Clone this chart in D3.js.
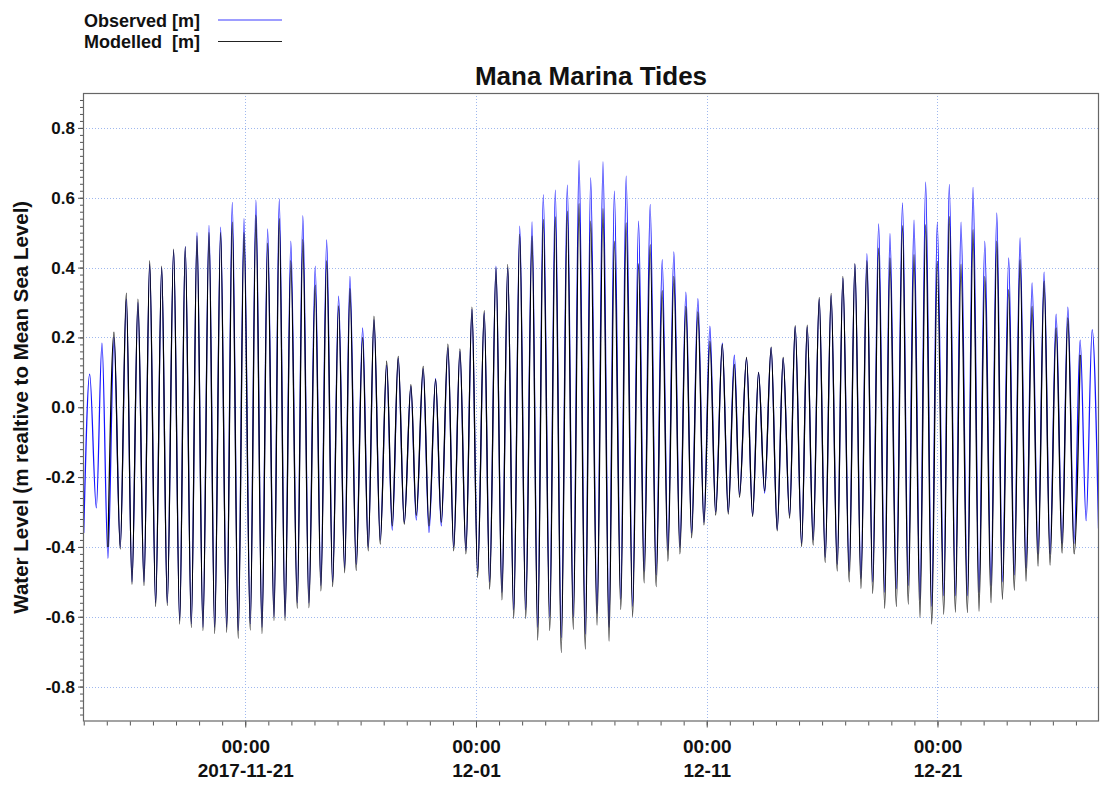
<!DOCTYPE html>
<html>
<head>
<meta charset="utf-8">
<script src="https://cdn.jsdelivr.net/npm/d3@7"></script>
<style>
  body { margin: 0; background: #fff; }
  text { font-family: "Liberation Sans", Arial, sans-serif; font-weight: bold; fill: #111; }
</style>
</head>
<body>
<svg id="chart" width="1102" height="807"></svg>
<script>
// High / low water times (UTC) and levels in metres relative to MSL
const times = [
  "2017-11-14 00:00","2017-11-14 06:12","2017-11-14 13:06","2017-11-14 19:00",
  "2017-11-15 01:12","2017-11-15 07:30","2017-11-15 14:00","2017-11-15 20:18",
  "2017-11-16 02:12","2017-11-16 08:24","2017-11-16 14:42","2017-11-16 20:36",
  "2017-11-17 02:48","2017-11-17 09:06","2017-11-17 14:54","2017-11-17 21:30",
  "2017-11-18 03:48","2017-11-18 09:36","2017-11-18 15:54","2017-11-18 21:48",
  "2017-11-19 04:00","2017-11-19 10:18","2017-11-19 16:12","2017-11-19 22:24",
  "2017-11-20 04:42","2017-11-20 10:30","2017-11-20 16:42","2017-11-20 22:42",
  "2017-11-21 05:12","2017-11-21 11:06","2017-11-21 17:24","2017-11-21 23:18",
  "2017-11-22 05:54","2017-11-22 11:24","2017-11-22 17:24","2017-11-22 23:24",
  "2017-11-23 06:06","2017-11-23 11:54","2017-11-23 18:12","2017-11-24 00:48",
  "2017-11-24 06:42","2017-11-24 12:42","2017-11-24 18:54","2017-11-25 01:06",
  "2017-11-25 07:24","2017-11-25 12:54","2017-11-25 19:24","2017-11-26 02:06",
  "2017-11-26 07:54","2017-11-26 13:54","2017-11-26 20:24","2017-11-27 03:06",
  "2017-11-27 08:54","2017-11-27 15:06","2017-11-27 21:24","2017-11-28 04:18",
  "2017-11-28 09:54","2017-11-28 17:06","2017-11-28 23:06","2017-11-29 06:00",
  "2017-11-29 11:54","2017-11-29 18:48","2017-11-30 00:48","2017-11-30 07:18",
  "2017-11-30 13:30","2017-11-30 19:48","2017-12-01 01:42","2017-12-01 08:36",
  "2017-12-01 14:12","2017-12-01 20:48","2017-12-02 03:00","2017-12-02 09:00",
  "2017-12-02 15:12","2017-12-02 21:30","2017-12-03 03:42","2017-12-03 10:18",
  "2017-12-03 16:12","2017-12-03 22:00","2017-12-04 04:42","2017-12-04 10:30",
  "2017-12-04 16:42","2017-12-04 23:00","2017-12-05 05:12","2017-12-05 11:12",
  "2017-12-05 17:42","2017-12-05 23:18","2017-12-06 05:54","2017-12-06 12:06",
  "2017-12-06 18:24","2017-12-06 23:54","2017-12-07 06:36","2017-12-07 12:12",
  "2017-12-07 18:54","2017-12-08 01:06","2017-12-08 06:54","2017-12-08 13:12",
  "2017-12-08 19:24","2017-12-09 01:42","2017-12-09 07:36","2017-12-09 13:48",
  "2017-12-09 20:06","2017-12-10 02:18","2017-12-10 08:18","2017-12-10 14:48",
  "2017-12-10 21:06","2017-12-11 03:18","2017-12-11 09:18","2017-12-11 16:12",
  "2017-12-11 22:24","2017-12-12 04:42","2017-12-12 10:06","2017-12-12 17:24",
  "2017-12-12 23:42","2017-12-13 05:54","2017-12-13 12:12","2017-12-13 19:00",
  "2017-12-14 01:18","2017-12-14 07:30","2017-12-14 14:12","2017-12-14 20:00",
  "2017-12-15 02:42","2017-12-15 08:30","2017-12-15 14:42","2017-12-15 21:00",
  "2017-12-16 03:12","2017-12-16 09:24","2017-12-16 15:42","2017-12-16 21:36",
  "2017-12-17 04:12","2017-12-17 10:06","2017-12-17 16:24","2017-12-17 22:36",
  "2017-12-18 04:36","2017-12-18 10:48","2017-12-18 17:06","2017-12-18 22:36",
  "2017-12-19 05:12","2017-12-19 11:36","2017-12-19 17:36","2017-12-19 23:36",
  "2017-12-20 05:48","2017-12-20 11:42","2017-12-20 18:00","2017-12-20 23:48",
  "2017-12-21 06:30","2017-12-21 12:18","2017-12-21 18:36","2017-12-22 00:30",
  "2017-12-22 07:06","2017-12-22 13:00","2017-12-22 19:12","2017-12-23 01:12",
  "2017-12-23 07:42","2017-12-23 13:42","2017-12-23 19:30","2017-12-24 02:06",
  "2017-12-24 07:54","2017-12-24 13:54","2017-12-24 20:06","2017-12-25 02:24",
  "2017-12-25 08:36","2017-12-25 14:54","2017-12-25 21:06","2017-12-26 03:24",
  "2017-12-26 09:36","2017-12-26 15:36","2017-12-26 22:06","2017-12-27 04:24",
  "2017-12-27 10:36","2017-12-27 16:54","2017-12-27 23:30"
];

const observed = [
  -0.36, 0.095, -0.288, 0.184,
  -0.433, 0.20, -0.40, 0.31,
  -0.50, 0.30, -0.50, 0.41,
  -0.56, 0.40, -0.56, 0.45,
  -0.61, 0.46, -0.62, 0.50,
  -0.63, 0.521, -0.63, 0.516,
  -0.63, 0.587, -0.64, 0.54,
  -0.62, 0.593, -0.63, 0.511,
  -0.60, 0.597, -0.60, 0.476,
  -0.56, 0.549, -0.56, 0.404,
  -0.51, 0.479, -0.50, 0.318,
  -0.46, 0.375, -0.45, 0.227,
  -0.40, 0.25, -0.38, 0.12,
  -0.352, 0.14, -0.33, 0.06,
  -0.323, 0.11, -0.359, 0.082,
  -0.34, 0.17, -0.40, 0.16,
  -0.41, 0.28, -0.47, 0.27,
  -0.50, 0.404, -0.53, 0.40,
  -0.58, 0.519, -0.58, 0.531,
  -0.63, 0.609, -0.60, 0.622,
  -0.66, 0.636, -0.60, 0.707,
  -0.65, 0.657, -0.59, 0.703,
  -0.63, 0.619, -0.55, 0.662,
  -0.57, 0.533, -0.47, 0.581,
  -0.48, 0.423, -0.41, 0.445,
  -0.40, 0.33, -0.36, 0.311,
  -0.33, 0.232, -0.30, 0.184,
  -0.30, 0.149, -0.25, 0.14,
  -0.31, 0.10, -0.246, 0.17,
  -0.35, 0.14, -0.31, 0.23,
  -0.39, 0.23, -0.38, 0.31,
  -0.43, 0.32, -0.45, 0.37,
  -0.47, 0.41, -0.49, 0.44,
  -0.50, 0.525, -0.53, 0.497,
  -0.52, 0.585, -0.51, 0.536,
  -0.55, 0.645, -0.57, 0.53,
  -0.54, 0.638, -0.54, 0.53,
  -0.54, 0.63, -0.53, 0.476,
  -0.51, 0.557, -0.50, 0.428,
  -0.48, 0.485, -0.46, 0.356,
  -0.42, 0.387, -0.42, 0.267,
  -0.39, 0.287, -0.39, 0.192,
  -0.325, 0.222, -0.347
];

const modelled = [
  null, null, null, null,
  -0.40, 0.215, -0.406, 0.327,
  -0.507, 0.31, -0.511, 0.42,
  -0.571, 0.404, -0.568, 0.453,
  -0.621, 0.459, -0.631, 0.49,
  -0.64, 0.50, -0.648, 0.50,
  -0.645, 0.53, -0.662, 0.50,
  -0.638, 0.55, -0.648, 0.47,
  -0.611, 0.54, -0.611, 0.42,
  -0.576, 0.48, -0.574, 0.35,
  -0.526, 0.42, -0.514, 0.29,
  -0.474, 0.34, -0.468, 0.20,
  -0.411, 0.261, -0.392, 0.132,
  -0.34, 0.146, -0.335, 0.065,
  -0.31, 0.117, -0.34, 0.08,
  -0.33, 0.181, -0.411, 0.167,
  -0.42, 0.287, -0.487, 0.277,
  -0.521, 0.40, -0.552, 0.409,
  -0.605, 0.495, -0.605, 0.49,
  -0.667, 0.538, -0.64, 0.545,
  -0.703, 0.562, -0.636, 0.583,
  -0.693, 0.533, -0.624, 0.569,
  -0.67, 0.476, -0.579, 0.528,
  -0.60, 0.411, -0.503, 0.466,
  -0.514, 0.334, -0.441, 0.375,
  -0.42, 0.289, -0.374, 0.273,
  -0.337, 0.189, -0.309, 0.18,
  -0.306, 0.123, -0.258, 0.143,
  -0.313, 0.10, -0.24, 0.172,
  -0.354, 0.143, -0.318, 0.234,
  -0.399, 0.235, -0.395, 0.315,
  -0.445, 0.326, -0.469, 0.375,
  -0.50, 0.411, -0.519, 0.42,
  -0.533, 0.456, -0.576, 0.428,
  -0.571, 0.52, -0.564, 0.437,
  -0.602, 0.523, -0.621, 0.418,
  -0.593, 0.547, -0.587, 0.41,
  -0.588, 0.509, -0.584, 0.375,
  -0.56, 0.476, -0.55, 0.337,
  -0.524, 0.423, -0.498, 0.289,
  -0.455, 0.361, -0.452, 0.227,
  -0.418, 0.256, -0.42, 0.15,
  null, null, null
];

const yTickValues = [-0.8, -0.6, -0.4, -0.2, 0.0, 0.2, 0.4, 0.6, 0.8];
const xTickDates = ["2017-11-21 00:00", "2017-12-01 00:00", "2017-12-11 00:00", "2017-12-21 00:00"];
const xTickTimeLabels = ["00:00", "00:00", "00:00", "00:00"];
const xTickDateLabels = ["2017-11-21", "12-01", "12-11", "12-21"];
const timeDomain = ["2017-11-13 23:15", "2017-12-28 00:00"];
const levelDomain = [-0.9, 0.9];
const seriesNames = ["Observed [m]", "Modelled  [m]"];
const seriesColors = ["#1414ff", "#000000"];
const legendColors = ["#3c3cff", "#222222"];

const parse = d3.utcParse("%Y-%m-%d %H:%M");
const rows = times.map((t, i) => ({ t: parse(t), obs: observed[i], mod: modelled[i] }));

const svg = d3.select("#chart");
const plot = { left: 83, right: 1099, top: 93, bottom: 721.5 };
const FONT = "Liberation Sans, Arial, sans-serif";

const x = d3.scaleUtc().domain(timeDomain.map(parse)).range([plot.left, plot.right]);
const y = d3.scaleLinear().domain(levelDomain).range([plot.bottom, plot.top]);

svg.append("rect").attr("width", 1102).attr("height", 807).attr("fill", "#fff");

// dotted grid
const grid = svg.append("g").attr("stroke", "#9fb8ee").attr("stroke-width", 1)
  .attr("stroke-dasharray", "1,2");
grid.selectAll(".gy").data(yTickValues).join("line")
  .attr("x1", plot.left).attr("x2", plot.right)
  .attr("y1", d => Math.round(y(d)) + 0.5).attr("y2", d => Math.round(y(d)) + 0.5);
grid.selectAll(".gx").data(xTickDates.map(parse)).join("line")
  .attr("y1", plot.top).attr("y2", plot.bottom)
  .attr("x1", d => Math.round(x(d)) + 0.5).attr("x2", d => Math.round(x(d)) + 0.5);

// series
svg.append("clipPath").attr("id", "plotClip").append("rect")
  .attr("x", plot.left).attr("y", plot.top)
  .attr("width", plot.right - plot.left).attr("height", plot.bottom - plot.top);

const lineObs = d3.line().x(d => x(d.t)).y(d => y(d.obs)).curve(d3.curveMonotoneX);
const lineMod = d3.line().defined(d => d.mod != null).x(d => x(d.t)).y(d => y(d.mod)).curve(d3.curveMonotoneX);

const series = svg.append("g").attr("clip-path", "url(#plotClip)");
series.append("path").datum(rows).attr("d", lineObs)
  .attr("fill", "none").attr("stroke", seriesColors[0]).attr("stroke-width", 1.25);
series.append("path").datum(rows).attr("d", lineMod)
  .attr("fill", "none").attr("stroke", seriesColors[1]).attr("stroke-width", 1.25);

// frame
svg.append("rect")
  .attr("x", plot.left + 0.5).attr("y", plot.top + 0.5)
  .attr("width", plot.right - plot.left - 1).attr("height", plot.bottom - plot.top - 1)
  .attr("fill", "none").attr("stroke", "#666").attr("stroke-width", 1.2);

// y axis: minor and major ticks
const yMinor = d3.range(-88, 89, 2).map(v => v / 100);
svg.append("g").attr("transform", `translate(${plot.left},0)`)
  .call(d3.axisLeft(y).tickValues(yMinor).tickSize(3).tickFormat(""))
  .call(g => g.select(".domain").remove())
  .call(g => g.selectAll("line").attr("stroke", "#555"));
svg.append("g").attr("transform", `translate(${plot.left},0)`)
  .call(d3.axisLeft(y).tickValues(yTickValues).tickSize(5).tickPadding(3)
    .tickFormat(d => d.toFixed(1)))
  .call(g => g.select(".domain").remove())
  .call(g => g.selectAll("line").attr("stroke", "#555"))
  .call(g => g.selectAll("text").attr("font-size", 17)
    .attr("font-family", FONT).attr("font-weight", "bold").attr("fill", "#111"));

// x axis: daily minor ticks, labelled major ticks
const xMinor = d3.utcDay.range(x.domain()[0], x.domain()[1]);
svg.append("g").attr("transform", `translate(0,${plot.bottom})`)
  .call(d3.axisBottom(x).tickValues(xMinor).tickSize(4).tickFormat(""))
  .call(g => g.select(".domain").remove())
  .call(g => g.selectAll("line").attr("stroke", "#555"));
const xMajor = svg.append("g").attr("transform", `translate(0,${plot.bottom})`)
  .call(d3.axisBottom(x).tickValues(xTickDates.map(parse)).tickSize(6).tickFormat(""))
  .call(g => g.select(".domain").remove())
  .call(g => g.selectAll("line").attr("stroke", "#555"));
xMajor.selectAll(".tick").each(function (d, i) {
  const t = d3.select(this).append("text")
    .attr("text-anchor", "middle").attr("font-size", 19)
    .attr("font-family", FONT).attr("font-weight", "bold").attr("fill", "#111");
  t.append("tspan").attr("x", 0).attr("y", 31).text(xTickTimeLabels[i]);
  t.append("tspan").attr("x", 0).attr("y", 55).text(xTickDateLabels[i]);
});

// title and axis label
svg.append("text").attr("x", 591).attr("y", 85).attr("text-anchor", "middle")
  .attr("font-size", 26).text("Mana Marina Tides");
svg.append("text").attr("transform", `translate(28,${(plot.top + plot.bottom) / 2}) rotate(-90)`)
  .attr("text-anchor", "middle").attr("font-size", 20.5)
  .text("Water Level (m realtive to Mean Sea Level)");

// legend
const legend = svg.append("g");
seriesNames.forEach((name, i) => {
  const yy = 20 + i * 21.5;
  legend.append("text").attr("x", 84).attr("y", yy + 6.5).attr("font-size", 18)
    .style("white-space", "pre").text(name);
  legend.append("line").attr("x1", 218).attr("x2", 282).attr("y1", yy).attr("y2", yy)
    .attr("stroke", legendColors[i]).attr("stroke-width", 1.2);
});
</script>
</body>
</html>
